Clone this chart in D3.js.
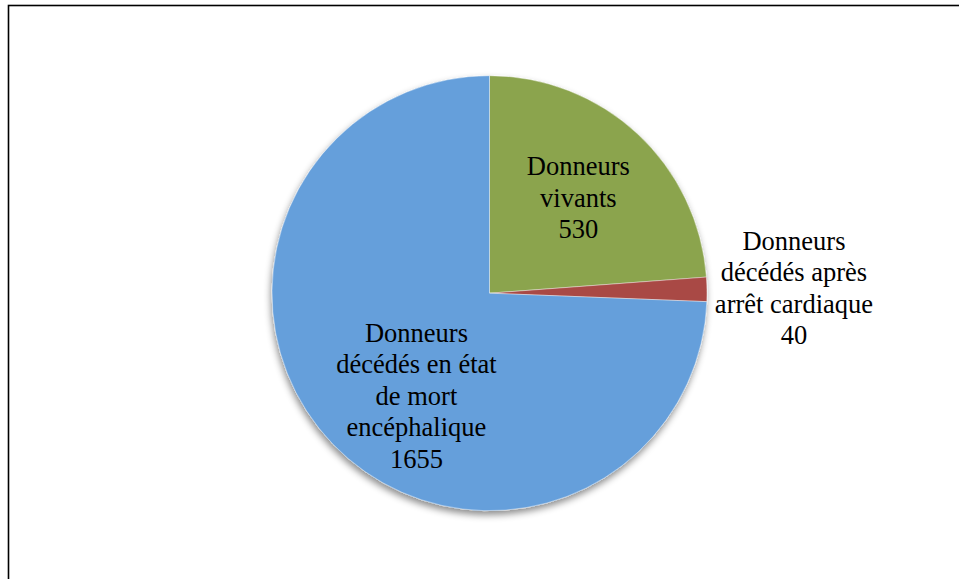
<!DOCTYPE html>
<html>
<head>
<meta charset="utf-8">
<script src="https://cdn.jsdelivr.net/npm/d3@7"></script>
<style>
	body { margin:0; background:#fff; }
	svg { display:block; }
	svg text, svg tspan { font-family: "Liberation Serif", "Times New Roman", serif; }
</style>
</head>
<body>
<div id="svgContainer"></div>
<script>
// categories and values, clockwise from 12 o'clock
var categories = ["Donneurs vivants", "Donneurs décédés après arrêt cardiaque", "Donneurs décédés en état de mort encéphalique"];
var values = [530, 40, 1655];
var colors = ["#8ba44e", "#a94a45", "#659fdb"];
// label text lines (as in the reference)
var labelLines = [
	["Donneurs", "vivants", "530"],
	["Donneurs", "décédés après", "arrêt cardiaque", "40"],
	["Donneurs", "décédés en état", "de mort", "encéphalique", "1655"]
];

var Chart = (function () {
	const width = 959, height = 579;
	const center = {x:489.5, y:293.2};
	const radius = 217.5;
	const lineHeight = 31.5;
	// label radius factor and small nudges (excel "best fit" placement)
	const labelPos = [ {k:0.6, dx:0, dy:0}, {k:1.4, dx:0, dy:0}, {k:0.6, dx:21, dy:12} ];

	var data = categories.map(function (c, i) {
		return {name:c, value:values[i], color:colors[i], lines:labelLines[i], idx:i};
	});

	function init() {
		var svg = d3.select("#svgContainer").append("svg")
			.attr("width", width)
			.attr("height", height)
			.attr("font-family", "Liberation Serif");

		var defs = svg.append("defs");
		var f = defs.append("filter").attr("id", "shadow")
			.attr("x", "-20%").attr("y", "-20%").attr("width", "140%").attr("height", "140%");
		f.append("feDropShadow")
			.attr("dx", -1).attr("dy", 4)
			.attr("stdDeviation", 3.5)
			.attr("flood-color", "#000")
			.attr("flood-opacity", 0.45);

		// chart area frame (right and bottom edges fall outside the picture)
		svg.append("rect")
			.attr("x", 8.5).attr("y", 5.5)
			.attr("width", 1000).attr("height", 1000)
			.attr("fill", "none")
			.attr("stroke", "#000")
			.attr("stroke-width", 1.6);

		var pie = d3.pie().sort(null).value(function (d) { return d.value; });
		var arc = d3.arc().innerRadius(0).outerRadius(radius);
		var arcs = pie(data);

		var g = svg.append("g")
			.attr("transform", "translate(" + center.x + "," + center.y + ")");

		g.append("g").attr("class", "slices")
			.attr("filter", "url(#shadow)")
			.selectAll("path")
			.data(arcs)
			.enter()
			.append("path")
			.attr("d", arc)
			.attr("fill", function (d) { return d.data.color; })
			.attr("stroke", "#fff")
			.attr("stroke-width", 0.4);

		var labels = g.append("g").attr("class", "labels")
			.selectAll("text")
			.data(arcs)
			.enter()
			.append("text")
			.attr("font-family", "Liberation Serif")
			.attr("font-size", 26.5)
			.attr("fill", "#000")
			.attr("text-anchor", "middle")
			.attr("transform", function (d, i) {
				var p = labelPos[i];
				var a = (d.startAngle + d.endAngle) / 2;
				var r = radius * p.k;
				var x = Math.sin(a) * r + p.dx;
				var y = -Math.cos(a) * r + p.dy;
				var n = d.data.lines.length;
				// vertical centring of the block of lines
				y = y - (n - 1) * lineHeight / 2 + 9;
				return "translate(" + x + "," + y + ")";
			});

		labels.selectAll("tspan")
			.data(function (d) { return d.data.lines; })
			.enter()
			.append("tspan")
			.attr("x", 0)
			.attr("dy", function (d, i) { return i === 0 ? 0 : lineHeight; })
			.attr("font-family", "Liberation Serif")
			.text(function (d) { return d; });
	}

	return { init: init };
})();

Chart.init();
</script>
</body>
</html>
